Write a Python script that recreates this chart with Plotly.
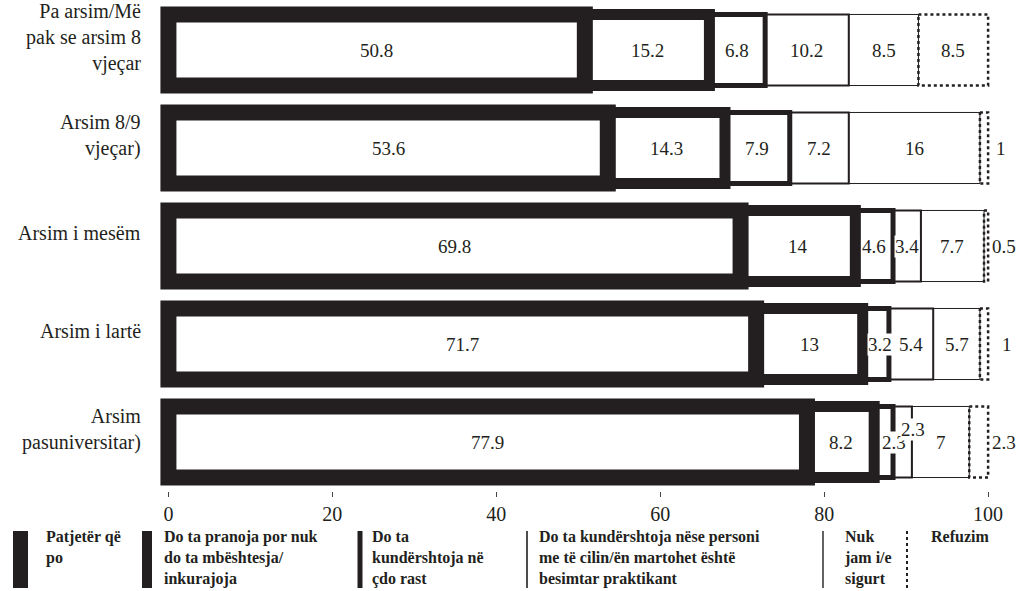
import plotly.graph_objects as go

# ---------------- data ----------------
categories = [
    "Pa arsim/Më<br>pak se arsim 8<br>vjeçar",
    "Arsim 8/9<br>vjeçar)",
    "Arsim i mesëm",
    "Arsim i lartë",
    "Arsim<br>pasuniversitar)",
]
series_names = [
    "Patjetër që<br>po",
    "Do ta pranoja por nuk<br>do ta mbështesja/<br>inkurajoja",
    "Do ta<br>kundërshtoja në<br>çdo rast",
    "Do ta kundërshtoja nëse personi<br>me të cilin/ën martohet është<br>besimtar praktikant",
    "Nuk<br>jam i/e<br>sigurt",
    "Refuzim",
]
patjeter = [50.8, 53.6, 69.8, 71.7, 77.9]
pranoja = [15.2, 14.3, 14, 13, 8.2]
kunder_cdo = [6.8, 7.9, 4.6, 3.2, 2.3]
kunder_besimtar = [10.2, 7.2, 3.4, 5.4, 2.3]
nuk_jam = [8.5, 16, 7.7, 5.7, 7]
refuzim = [8.5, 1, 0.5, 1, 2.3]
x_ticks = [0, 20, 40, 60, 80, 100]

series_values = [patjeter, pranoja, kunder_cdo, kunder_besimtar, nuk_jam, refuzim]

# ---------------- style ----------------
INK = "#231f20"
SERIF = "Liberation Serif, Times New Roman, serif"
border_widths = [16, 11, 5, 2, 1, 0]
legend_widths = [15, 10, 5, 1.6, 1.4, 2]
BAR_W = 0.725
W_FIG, H_FIG = 1019, 591
L, R, T, B = 159, 19, 1, 100
PW, PH = W_FIG - L - R, H_FIG - T - B
XRANGE = [-1.15, 101.45]

n_rows = len(categories)
rows = list(range(n_rows))

# cumulative bases
bases = []
acc = [0.0] * n_rows
for vals in series_values:
    bases.append(list(acc))
    acc = [a + v for a, v in zip(acc, vals)]

fig = go.Figure()

# draw last series first so earlier (thicker) borders sit on top
for i in reversed(range(len(series_values))):
    fig.add_trace(go.Bar(
        y=rows, x=series_values[i], base=bases[i], orientation="h",
        width=BAR_W, name=series_names[i].replace("<br>", " "),
        marker=dict(color="white", line=dict(color=INK, width=border_widths[i])),
        hoverinfo="x+name", showlegend=False,
    ))

# dotted outline for "Refuzim"
ox, oy = [], []
for r in rows:
    b0 = bases[5][r]
    b1 = b0 + refuzim[r]
    y0, y1 = r - BAR_W / 2, r + BAR_W / 2
    ox += [b0, b1, b1, b0, b0, None]
    oy += [y0, y0, y1, y1, y0, None]
fig.add_trace(go.Scatter(x=ox, y=oy, mode="lines", showlegend=False, hoverinfo="skip",
                         line=dict(color=INK, width=2.5, dash="dot")))

annotations = []
# value labels
nudges = {(2, 4): (10, 0), (3, 4): (11, 13), (2, 3): (4, 0)}
outside_shift = {1: 6, 2: 2, 3: 12, 4: 2}
for i, vals in enumerate(series_values):
    for r in rows:
        v = vals[r]
        txt = f"{v:g}"
        if i == 5 and r in outside_shift:
            annotations.append(dict(
                x=bases[i][r] + v, y=r, xref="x", yref="y", text=txt, showarrow=False,
                xanchor="left", xshift=outside_shift[r],
                font=dict(family=SERIF, size=19, color=INK)))
            continue
        dx, dy = nudges.get((i, r), (0, 0))
        annotations.append(dict(
            x=bases[i][r] + v / 2, y=r, xref="x", yref="y", text=txt, showarrow=False,
            xshift=dx, yshift=dy, bgcolor="white", borderpad=0,
            font=dict(family=SERIF, size=19, color=INK)))

# category labels
for r, c in enumerate(categories):
    annotations.append(dict(
        x=0, y=r, xref="paper", yref="y", text=c, showarrow=False,
        xanchor="right", align="right", xshift=-16, yshift=13,
        font=dict(family=SERIF, size=20, color=INK)))


def px_x(px):
    return (px - L) / PW


def px_y(py):
    return 1 - (py - T) / PH


# custom legend
legend_sym_x = [20.5, 147, 360, 527, 823, 907]
legend_txt_x = [44, 162, 370, 537, 842, 929]
shapes = []
for i in range(len(series_names)):
    shapes.append(dict(
        type="line", xref="paper", yref="paper",
        x0=px_x(legend_sym_x[i]), x1=px_x(legend_sym_x[i]),
        y0=px_y(531), y1=px_y(588),
        line=dict(color=INK, width=legend_widths[i], dash="dot" if i == 5 else "solid")))
    annotations.append(dict(
        x=px_x(legend_txt_x[i]), y=px_y(526), xref="paper", yref="paper",
        text="<b>" + series_names[i] + "</b>", showarrow=False,
        xanchor="left", yanchor="top", align="left",
        font=dict(family=SERIF, size=16, color=INK)))

fig.update_layout(
    width=W_FIG, height=H_FIG,
    margin=dict(l=L, r=R, t=T, b=B, pad=0),
    barmode="overlay",
    plot_bgcolor="white", paper_bgcolor="white",
    xaxis=dict(range=XRANGE, tickvals=x_ticks, ticks="outside", ticklen=5,
               tickcolor="#444", tickwidth=1, showgrid=False, zeroline=False,
               showline=False, tickfont=dict(family=SERIF, size=20, color=INK),
               ticklabelstandoff=0),
    yaxis=dict(range=[n_rows - 0.5, -0.5], showticklabels=False, ticks="",
               showgrid=False, zeroline=False, showline=False),
    annotations=annotations,
    shapes=shapes,
    showlegend=False,
)

fig.write_html("out.html", config={"displayModeBar": False},
               post_script="document.body.style.margin='0';")
